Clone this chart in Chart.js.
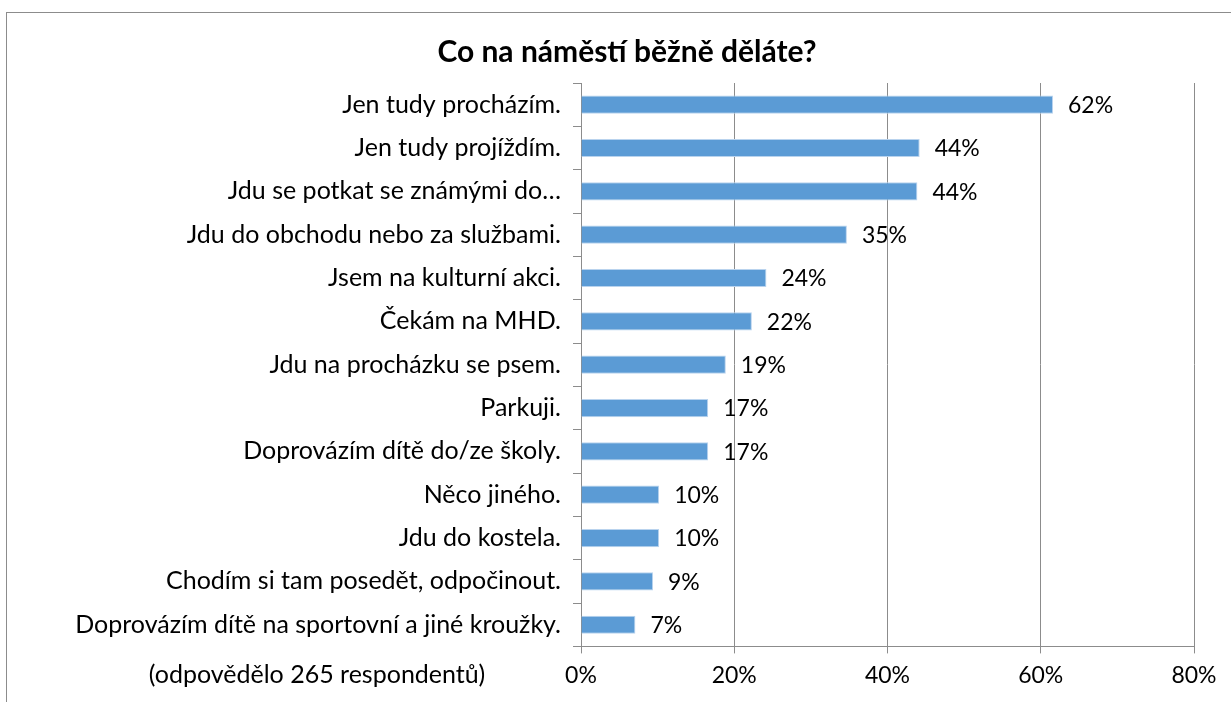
<!DOCTYPE html>
<html>
<head>
<meta charset="utf-8">
<script src="https://cdn.jsdelivr.net/npm/chart.js@4"></script>
<style>
	html, body { margin:0; padding:0; background:#fff; overflow:hidden; }
	#frame { position:absolute; left:6px; top:12px; width:1400px; height:900px; border:1px solid #8c8c8c; }
	#wrap { position:absolute; left:0; top:0; width:1231px; height:702px; }
</style>
</head>
<body>
<div id="frame"></div>
<div id="wrap"><canvas id="c"></canvas></div>
<script>
const nadpis = 'Co na náměstí běžně děláte?'
const poznamka = '(odpovědělo 265 respondentů)'
const kategorie = [
	'Jen tudy procházím.',
	'Jen tudy projíždím.',
	'Jdu se potkat se známými do…',
	'Jdu do obchodu nebo za službami.',
	'Jsem na kulturní akci.',
	'Čekám na MHD.',
	'Jdu na procházku se psem.',
	'Parkuji.',
	'Doprovázím dítě do/ze školy.',
	'Něco jiného.',
	'Jdu do kostela.',
	'Chodím si tam posedět, odpočinout.',
	'Doprovázím dítě na sportovní a jiné kroužky.',
]
const hodnoty = [61.6, 44.2, 43.9, 34.7, 24.2, 22.3, 18.9, 16.6, 16.6, 10.2, 10.2, 9.4, 7.1]
const popisky = ['62%', '44%', '44%', '35%', '24%', '22%', '19%', '17%', '17%', '10%', '10%', '9%', '7%']

const pismo = 'Lato, "Open Sans", sans-serif'
const barva = '#5b9bd5'
const seda = '#8c8c8c'

// popisky hodnot za koncem sloupce
const hodnotyPlugin = {
	id: 'hodnoty',
	afterDatasetsDraw: ch => {
		const ctx = ch.ctx
		ctx.save()
		ctx.font = `23px ${pismo}`
		ctx.fillStyle = '#000'
		ctx.textBaseline = 'middle'
		ctx.textAlign = 'left'
		ch.getDatasetMeta(0).data.forEach((b, i) => ctx.fillText(popisky[i], b.x + 15, b.y + 1))
		ctx.restore()
	}
}

// poznamka vlevo na urovni popisku osy x
const poznamkaPlugin = {
	id: 'poznamka',
	afterDraw: ch => {
		const ctx = ch.ctx, x = ch.scales.x
		ctx.save()
		ctx.font = `25px ${pismo}`
		ctx.fillStyle = '#000'
		ctx.textBaseline = 'middle'
		ctx.textAlign = 'center'
		ctx.fillText(poznamka, 317, x.top + 7 + 8 + 14)
		ctx.restore()
	}
}

new Chart(document.getElementById('c'), {
	type: 'bar',
	data: {
		labels: kategorie,
		datasets: [{
			data: hodnoty,
			backgroundColor: barva,
			borderColor: '#b9d3ee',
			borderWidth: 1,
			barPercentage: 0.42,
			categoryPercentage: 1,
		}]
	},
	options: {
		indexAxis: 'y',
		responsive: true,
		maintainAspectRatio: false,
		animation: false,
		layout: { padding: { left: 60, top: 0, right: 37, bottom: 5 } },
		plugins: {
			legend: { display: false },
			tooltip: { enabled: false },
			title: {
				display: true,
				text: nadpis,
				color: '#000',
				font: { family: pismo, size: 30, weight: 'bold' },
				padding: { top: 34, bottom: 13 },
			},
		},
		scales: {
			x: {
				min: 0,
				max: 80,
				ticks: {
					stepSize: 20,
					color: '#000',
					padding: 8,
					font: { family: pismo, size: 23 },
					callback: v => v + '%',
				},
				grid: { color: seda, tickLength: 7, tickColor: seda },
				border: { color: seda },
			},
			y: {
				ticks: {
					color: '#000',
					padding: 12,
					autoSkip: false,
					font: { family: pismo, size: 25 },
				},
				grid: { drawOnChartArea: false, offset: true, tickLength: 8, tickColor: seda },
				border: { color: seda },
				afterFit: s => { s.width = 521 },
			},
		},
	},
	plugins: [hodnotyPlugin, poznamkaPlugin],
})
</script>
</body>
</html>
